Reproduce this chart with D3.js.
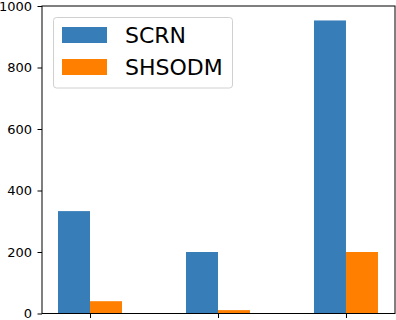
<!DOCTYPE html>
<html>
<head>
<meta charset="utf-8">
<script src="https://cdn.jsdelivr.net/npm/d3@7"></script>
<style>
  body { margin: 0; background: #fff; }
  text { font-family: "DejaVu Sans", sans-serif; }
</style>
</head>
<body>
<svg id="chart" width="396" height="320"></svg>
<script>
// data
const categories = ["A", "B", "C"];
const seriesNames = ["SCRN", "SHSODM"];
const scrn = [333, 200, 953];
const shsodm = [40, 11, 200];
const yTicks = [0, 200, 400, 600, 800, 1000];
const colors = ["#377eb8", "#ff7f00"];

const svg = d3.select("#chart");

const margem = { left: 42, right: 395, top: 6, bottom: 313.5 };

const x = d3.scaleLinear().domain([-0.375, 2.383]).range([margem.left, margem.right]);
const y = d3.scaleLinear().domain([0, 1000]).range([margem.bottom, margem.top]);
const barW = x(0.25) - x(0);

const series = [scrn, shsodm];

// bars
series.forEach((vals, s) => {
    svg.append("g").selectAll("rect").data(vals).enter()
        .append("rect")
            .attr("x", (d, i) => s === 0 ? x(i) - barW : x(i))
            .attr("y", d => y(d))
            .attr("width", barW)
            .attr("height", d => y(0) - y(d))
            .attr("fill", colors[s]);
});

// y axis
const yAxis = svg.append("g")
    .attr("transform", `translate(${margem.left},0)`)
    .call(d3.axisLeft(y).tickValues(yTicks).tickSize(4.5).tickPadding(5.5).tickFormat(d3.format("d")));
yAxis.selectAll("text").attr("font-size", 13).attr("fill", "#000").style("font-family", "DejaVu Sans");
yAxis.selectAll("line").attr("stroke", "#000");
yAxis.select(".domain").remove();

// x axis (ticks only, no labels)
const xAxis = svg.append("g")
    .attr("transform", `translate(0,${margem.bottom})`)
    .call(d3.axisBottom(x).tickValues(d3.range(categories.length)).tickSize(4.5).tickFormat(""));
xAxis.selectAll("line").attr("stroke", "#000");
xAxis.select(".domain").remove();

// frame
svg.append("rect")
    .attr("x", margem.left).attr("y", margem.top)
    .attr("width", margem.right - margem.left).attr("height", margem.bottom - margem.top)
    .attr("fill", "none").attr("stroke", "#000").attr("stroke-width", 1);

// legend
const legend = svg.append("g");
legend.append("rect")
    .attr("x", 53.5).attr("y", 17.5).attr("width", 179).attr("height", 70.5)
    .attr("rx", 3).attr("fill", "#fff").attr("fill-opacity", 0.8)
    .attr("stroke", "#d0d0d0");
seriesNames.forEach((name, s) => {
    legend.append("rect")
        .attr("x", 62).attr("y", 27 + s * 32).attr("width", 45).attr("height", 16)
        .attr("fill", colors[s]);
    legend.append("text")
        .attr("x", 125).attr("y", 43 + s * 32)
        .attr("font-size", 22).attr("fill", "#000")
        .text(name);
});
</script>
</body>
</html>
